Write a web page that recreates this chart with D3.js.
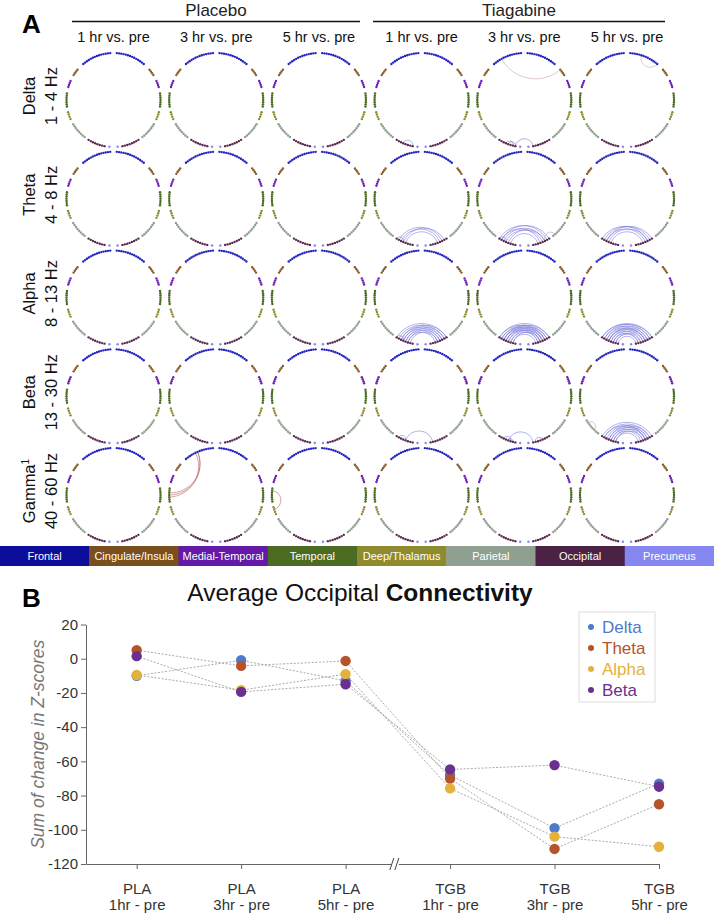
<!DOCTYPE html>
<html><head><meta charset="utf-8">
<script src="https://cdn.jsdelivr.net/npm/d3@7"></script>
<style>body{margin:0;background:#fff}svg text{font-family:"Liberation Sans",Arial,Helvetica,sans-serif}</style>
</head><body>
<svg id="fig" width="714" height="915"></svg>
<script>
// ---------------- DATA (panel A) ----------------
const groups = ["Placebo", "Tiagabine"];
const timeLabels = ["1 hr vs. pre", "3 hr vs. pre", "5 hr vs. pre"];
const bandNames = ["Delta", "Theta", "Alpha", "Beta", "Gamma"];
const bandRanges = ["1 - 4 Hz", "4 - 8 Hz", "8 - 13 Hz", "13 - 30 Hz", "40 - 60 Hz"];
const regionNames = ["Frontal", "Cingulate/Insula", "Medial-Temporal", "Temporal", "Deep/Thalamus", "Parietal", "Occipital", "Precuneus"];
const regionCodes = ["F", "C", "M", "T", "D", "P", "O", "Q"];
const regionNodeCounts = [14, 4, 4, 7, 4, 8, 8, 1];
// connections: [band, group, time index, from node, to node, kind]
const connections = [
  ["Delta","Tiagabine",0,"LO3","LO7","dec"],
  ["Delta","Tiagabine",1,"LF9","RC0","inc2"],
  ["Delta","Tiagabine",1,"LO3","LO6","dec"],
  ["Delta","Tiagabine",1,"LO4","LO7","dec"],
  ["Delta","Tiagabine",1,"LO7","RO7","dec"],
  ["Delta","Tiagabine",2,"RF5","RF13","inc2"],
  ["Theta","Tiagabine",0,"LO1","RO2","dec"],["Theta","Tiagabine",0,"LO2","RO3","dec"],
  ["Theta","Tiagabine",0,"LO3","RO1","dec"],["Theta","Tiagabine",0,"LO4","RO4","dec"],
  ["Theta","Tiagabine",0,"LO0","LO3","dec"],
  ["Theta","Tiagabine",1,"LO0","RO1","dec"],["Theta","Tiagabine",1,"LO1","RO0","dec"],
  ["Theta","Tiagabine",1,"LO2","RO2","dec"],["Theta","Tiagabine",1,"LO3","RO3","dec"],
  ["Theta","Tiagabine",1,"LO1","RO4","dec"],["Theta","Tiagabine",1,"LO4","RO2","dec"],
  ["Theta","Tiagabine",1,"LO5","RO5","dec"],["Theta","Tiagabine",1,"LO0","LO3","dec"],
  ["Theta","Tiagabine",1,"RP6","RO2","ns"],
  ["Theta","Tiagabine",2,"LO1","RO1","dec"],["Theta","Tiagabine",2,"LO2","RO3","dec"],
  ["Theta","Tiagabine",2,"LO3","RO2","dec"],["Theta","Tiagabine",2,"LO4","RO4","dec"],
  ["Theta","Tiagabine",2,"LO0","RO2","dec"],["Theta","Tiagabine",2,"LO2","RO0","dec"],
  ["Alpha","Tiagabine",0,"LO0","RO0","dec"],["Alpha","Tiagabine",0,"LO1","RO1","dec"],
  ["Alpha","Tiagabine",0,"LO2","RO0","dec"],["Alpha","Tiagabine",0,"LO2","RO2","dec"],
  ["Alpha","Tiagabine",0,"LO3","RO1","dec"],["Alpha","Tiagabine",0,"LO3","RO3","dec"],
  ["Alpha","Tiagabine",0,"LO4","RO2","dec"],["Alpha","Tiagabine",0,"LO4","RO4","dec"],
  ["Alpha","Tiagabine",0,"LO5","RO3","dec"],["Alpha","Tiagabine",0,"LO5","RO5","dec"],
  ["Alpha","Tiagabine",0,"LO6","RO4","dec"],["Alpha","Tiagabine",0,"LO0","LO3","dec"],
  ["Alpha","Tiagabine",1,"LO0","RO0","dec"],["Alpha","Tiagabine",1,"LO0","RO2","dec"],
  ["Alpha","Tiagabine",1,"LO1","RO1","dec"],["Alpha","Tiagabine",1,"LO1","RO3","dec"],
  ["Alpha","Tiagabine",1,"LO2","RO0","dec"],["Alpha","Tiagabine",1,"LO2","RO2","dec"],
  ["Alpha","Tiagabine",1,"LO2","RO4","dec"],["Alpha","Tiagabine",1,"LO3","RO1","dec"],
  ["Alpha","Tiagabine",1,"LO3","RO3","dec"],["Alpha","Tiagabine",1,"LO3","RO5","dec"],
  ["Alpha","Tiagabine",1,"LO4","RO2","dec"],["Alpha","Tiagabine",1,"LO4","RO4","dec"],
  ["Alpha","Tiagabine",1,"LO5","RO3","dec"],["Alpha","Tiagabine",1,"LO5","RO5","dec"],
  ["Alpha","Tiagabine",1,"LO6","RO4","dec"],["Alpha","Tiagabine",1,"LO6","RO6","dec"],
  ["Alpha","Tiagabine",2,"LO0","RO0","dec"],["Alpha","Tiagabine",2,"LO0","RO1","dec"],
  ["Alpha","Tiagabine",2,"LO1","RO0","dec"],["Alpha","Tiagabine",2,"LO1","RO2","dec"],
  ["Alpha","Tiagabine",2,"LO2","RO1","dec"],["Alpha","Tiagabine",2,"LO2","RO3","dec"],
  ["Alpha","Tiagabine",2,"LO3","RO2","dec"],["Alpha","Tiagabine",2,"LO3","RO4","dec"],
  ["Alpha","Tiagabine",2,"LO4","RO3","dec"],["Alpha","Tiagabine",2,"LO4","RO5","dec"],
  ["Alpha","Tiagabine",2,"LO5","RO4","dec"],["Alpha","Tiagabine",2,"LO5","RO6","dec"],
  ["Alpha","Tiagabine",2,"LO6","RO5","dec"],["Alpha","Tiagabine",2,"LO6","RO6","dec"],
  ["Alpha","Tiagabine",2,"LO7","RO7","dec"],["Alpha","Tiagabine",2,"LO3","RO3","dec"],
  ["Beta","Tiagabine",0,"LO4","RO6","dec"],["Beta","Tiagabine",0,"LO1","LO4","dec"],
  ["Beta","Tiagabine",1,"LO4","RO7","dec"],["Beta","Tiagabine",1,"LO2","LO5","dec"],
  ["Beta","Tiagabine",1,"LO4","LO6","dec"],["Beta","Tiagabine",1,"RO3","RO6","dec"],
  ["Beta","Tiagabine",2,"LO0","RO0","dec"],["Beta","Tiagabine",2,"LO1","RO1","dec"],
  ["Beta","Tiagabine",2,"LO1","RO3","dec"],["Beta","Tiagabine",2,"LO2","RO2","dec"],
  ["Beta","Tiagabine",2,"LO3","RO1","dec"],["Beta","Tiagabine",2,"LO3","RO3","dec"],
  ["Beta","Tiagabine",2,"LO4","RO4","dec"],["Beta","Tiagabine",2,"LO4","RO2","dec"],
  ["Beta","Tiagabine",2,"LO5","RO5","dec"],["Beta","Tiagabine",2,"LO5","RO3","dec"],
  ["Beta","Tiagabine",2,"LO6","RO6","dec"],["Beta","Tiagabine",2,"LO6","RO4","dec"],
  ["Beta","Tiagabine",2,"LP1","LP5","ns"],
  ["Gamma","Placebo",1,"LT2","LF7","inc"],["Gamma","Placebo",1,"LT3","LF7","inc"],
  ["Gamma","Placebo",1,"LT4","LF8","inc"],
  ["Gamma","Placebo",2,"LT1","LD1","inc"]
];

// ---------------- DATA (panel B) ----------------
const condGroup = ["PLA", "PLA", "PLA", "TGB", "TGB", "TGB"];
const condTime = ["1hr - pre", "3hr - pre", "5hr - pre", "1hr - pre", "3hr - pre", "5hr - pre"];
const seriesNames = ["Delta", "Theta", "Alpha", "Beta"];
const deltaValues = [-10, -0.9, -13, -68, -99, -73];
const thetaValues = [5, -4.2, -1.3, -70, -111.2, -85.1];
const alphaValues = [-9.5, -18.4, -9, -75.8, -104, -109.9];
const betaValues = [1.5, -19.4, -14.9, -64.7, -62.2, -74.8];
const yTickValues = [20, 0, -20, -40, -60, -80, -100, -120];

// ---------------- STYLE ----------------
const regionColors = ["#0d0d9c", "#7b4f1d", "#6419a8", "#4b6b23", "#8d8b2e", "#8fa090", "#4b2244", "#8787f2"];
const nodeColors = ["#2424c0", "#8a5a28", "#7020b8", "#4b6b23", "#8d8b2e", "#8fa090", "#5a2a50", "#8787f2"];
const edgeColors = {dec: "#7676dc", inc: "#b0605a", inc2: "#c8a0a0", ns: "#a8a8a8"};
const seriesColors = ["#4e7bc8", "#b5542b", "#e2b23c", "#6b2f90"];

const svg = d3.select("#fig");

// ---------------- PANEL A ----------------
const R = 47;
const colX = d3.scaleLinear().domain([0, 5]).range([113.5, 627]);
const rowY = d3.scaleLinear().domain([0, 4]).range([100, 495]);
// angular layout (degrees from top, per hemisphere)
const regionSpan = [[4, 40], [50, 58], [66, 74], [82, 98], [105, 114], [121, 142], [148, 169], [175, 175]];

function nodeAngle(r, i) {
  const n = regionNodeCounts[r];
  const s = d3.scaleLinear().domain([0, Math.max(1, n - 1)]).range(regionSpan[r]);
  return s(i) * Math.PI / 180;
}
function nodePos(code) {
  const hemi = code[0];
  const r = regionCodes.indexOf(code[1]);
  const i = +code.slice(2);
  const a = nodeAngle(r, i);
  const sx = hemi === "L" ? -1 : 1;
  return [sx * R * Math.sin(a), -R * Math.cos(a)];
}
function geoPath(p1, p2) {
  const a1 = Math.atan2(p1[1], p1[0]), a2 = Math.atan2(p2[1], p2[0]);
  let d = Math.abs(a1 - a2); if (d > Math.PI) d = 2 * Math.PI - d;
  if (d > Math.PI * 0.995) return `M${p1[0]},${p1[1]}L${p2[0]},${p2[1]}`;
  const r = R * Math.tan(d / 2);
  const dx = p2[0] - p1[0], dy = p2[1] - p1[1];
  const sweep = (-dy * p1[0] + dx * p1[1]) > 0 ? 1 : 0;
  return `M${p1[0]},${p1[1]}A${r},${r} 0 0 ${sweep} ${p2[0]},${p2[1]}`;
}

const allNodes = [];
["L", "R"].forEach(h => regionCodes.forEach((c, r) => {
  for (let i = 0; i < regionNodeCounts[r]; i++) allNodes.push({code: h + c + i, region: r});
}));

const gA = svg.append("g");
gA.append("text").attr("x", 22).attr("y", 33).attr("font-size", 26).attr("font-weight", "bold").text("A");

const groupLines = [[72, 360], [373, 665]];
groups.forEach((g, gi) => {
  const [x0, x1] = groupLines[gi];
  gA.append("line").attr("x1", x0).attr("x2", x1).attr("y1", 21.5).attr("y2", 21.5)
    .attr("stroke", "#111").attr("stroke-width", 1.4);
  gA.append("text").attr("x", (x0 + x1) / 2).attr("y", 16).attr("text-anchor", "middle")
    .attr("font-size", 17).attr("fill", "#222").text(g);
});
for (let c = 0; c < 6; c++) {
  gA.append("text").attr("x", colX(c)).attr("y", 42).attr("text-anchor", "middle")
    .attr("font-size", 14.5).attr("fill", "#111").text(timeLabels[c % 3]);
}
bandNames.forEach((b, ri) => {
  const cy = rowY(ri) - 4;
  const t1 = gA.append("text").attr("transform", `translate(35,${cy}) rotate(-90)`)
    .attr("text-anchor", "middle").attr("font-size", 16.5).attr("fill", "#111");
  t1.append("tspan").text(b);
  if (b === "Gamma") t1.append("tspan").attr("font-size", 10).attr("dy", -6).text("1");
  gA.append("text").attr("transform", `translate(57,${cy}) rotate(-90)`)
    .attr("text-anchor", "middle").attr("font-size", 16.5).attr("fill", "#111").text(bandRanges[ri]);
});

for (let ri = 0; ri < 5; ri++) {
  for (let c = 0; c < 6; c++) {
    const grp = groups[Math.floor(c / 3)], ti = c % 3;
    const g = gA.append("g").attr("transform", `translate(${colX(c)},${rowY(ri)})`);
    const edges = connections.filter(e => e[0] === bandNames[ri] && e[1] === grp && e[2] === ti);
    g.selectAll("path.edge").data(edges).join("path").attr("class", "edge")
      .attr("d", e => geoPath(nodePos(e[3]), nodePos(e[4])))
      .attr("fill", "none").attr("stroke", e => edgeColors[e[5]])
      .attr("stroke-opacity", 0.75).attr("stroke-width", 0.75);
    g.selectAll("circle").data(allNodes).join("circle")
      .attr("cx", d => nodePos(d.code)[0]).attr("cy", d => nodePos(d.code)[1])
      .attr("r", 1.2).attr("fill", d => nodeColors[d.region]);
  }
}

const barX = d3.scaleBand().domain(regionNames).range([0, 714]);
const bar = gA.append("g");
bar.selectAll("rect").data(regionNames).join("rect")
  .attr("x", d => barX(d)).attr("y", 546).attr("width", barX.bandwidth() + 0.5).attr("height", 20)
  .attr("fill", (d, i) => regionColors[i]);
bar.selectAll("text").data(regionNames).join("text")
  .attr("x", d => barX(d) + barX.bandwidth() / 2).attr("y", 560).attr("text-anchor", "middle")
  .attr("font-size", 11).attr("fill", "#fff").text(d => d);

// ---------------- PANEL B ----------------
const gB = svg.append("g");
gB.append("text").attr("x", 22).attr("y", 607).attr("font-size", 26).attr("font-weight", "bold").text("B");
const title = gB.append("text").attr("x", 360).attr("y", 601).attr("text-anchor", "middle")
  .attr("font-size", 24.5).attr("fill", "#111");
title.append("tspan").text("Average Occipital ");
title.append("tspan").attr("font-weight", "bold").text("Connectivity");

const x = d3.scaleLinear().domain([-0.485, 5]).range([86, 659]);
const y = d3.scaleLinear().domain([-120, 20]).range([864, 624.5]);

const yAxis = gB.append("g").attr("transform", "translate(86,0)")
  .call(d3.axisLeft(y).tickValues(yTickValues).tickFormat(d => String(d))
    .tickSize(5).tickSizeOuter(0).tickPadding(3));
yAxis.select(".domain").attr("stroke", "#666");
yAxis.selectAll(".tick line").attr("stroke", "#666");
yAxis.selectAll(".tick text").attr("font-size", 15).attr("fill", "#333")
  .attr("font-family", "'Liberation Sans',Arial,sans-serif");

const xAxis = gB.append("g").attr("transform", "translate(0,864)")
  .call(d3.axisBottom(x).tickValues(d3.range(6)).tickSize(5).tickSizeOuter(0).tickFormat(""));
xAxis.select(".domain").attr("stroke", "#666");
xAxis.selectAll(".tick line").attr("stroke", "#666");
const xl = xAxis.selectAll(".tick").append("text").attr("fill", "#333").attr("font-size", 15)
  .attr("text-anchor", "middle").attr("font-family", "'Liberation Sans',Arial,sans-serif");
xl.append("tspan").attr("x", 0).attr("y", 30).text(d => condGroup[d]);
xl.append("tspan").attr("x", 0).attr("y", 46).text(d => condTime[d]);

const bx = (x(2) + x(3)) / 2 - 2;
gB.append("rect").attr("x", bx - 4).attr("y", 862).attr("width", 7).attr("height", 4).attr("fill", "#fff");
[-4, 1].forEach(o => gB.append("line").attr("x1", bx + o - 2).attr("y1", 870).attr("x2", bx + o + 2).attr("y2", 858)
  .attr("stroke", "#444").attr("stroke-width", 1));

gB.append("text").attr("transform", `translate(44,${y(-50)}) rotate(-90)`)
  .attr("text-anchor", "middle").attr("font-size", 17.5).attr("font-style", "italic").attr("fill", "#777")
  .text("Sum of change in Z-scores");

const seriesValues = [deltaValues, thetaValues, alphaValues, betaValues];
const line = d3.line().x((d, i) => x(i)).y(d => y(d));
gB.selectAll("path.sline").data(seriesValues).join("path").attr("class", "sline")
  .attr("d", line).attr("fill", "none").attr("stroke", "#a0a0a0").attr("stroke-width", 0.9)
  .attr("stroke-dasharray", "2,1.6");
seriesValues.forEach((vals, si) => {
  gB.append("g").selectAll("circle").data(vals).join("circle")
    .attr("cx", (d, i) => x(i)).attr("cy", d => y(d)).attr("r", 5.2).attr("fill", seriesColors[si]);
});

const lg = gB.append("g");
lg.append("rect").attr("x", 579).attr("y", 612).attr("width", 76).attr("height", 90)
  .attr("fill", "#fff").attr("stroke", "#ddd").attr("stroke-width", 1);
seriesNames.forEach((s, i) => {
  const yy = 627 + i * 21;
  lg.append("circle").attr("cx", 591).attr("cy", yy).attr("r", 3).attr("fill", seriesColors[i]);
  lg.append("text").attr("x", 602).attr("y", yy + 6).attr("font-size", 17).attr("fill", seriesColors[i]).text(s);
});
</script>
</body></html>
